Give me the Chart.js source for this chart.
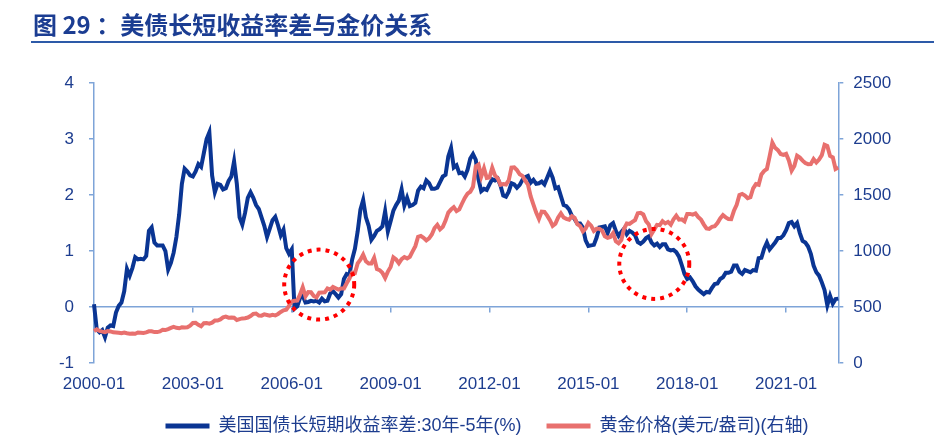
<!DOCTYPE html>
<html lang="zh">
<head>
<meta charset="UTF-8">
<title>美债长短收益率差与金价关系</title>
<script src="https://cdn.jsdelivr.net/npm/chart.js"></script>
<style>
    body {
        margin: 0;
        background: #ffffff;
    }
    .wrap {
        position: relative;
        width: 940px;
        height: 445px;
    }
    .title {
        position: absolute;
        left: 33px;
        top: 6px;
        font-family: "Noto Sans CJK SC", sans-serif;
        font-weight: bold;
        font-size: 24px;
        color: #1b3d92;
        white-space: nowrap;
    }
    .rule {
        position: absolute;
        left: 31px;
        right: 6px;
        top: 41px;
        height: 2px;
        background: #2d5aa8;
    }
    canvas {
        position: absolute;
        left: 0;
        top: 0;
    }
</style>
</head>
<body>
<div class="wrap">
    <canvas id="chart" width="940" height="445"></canvas>
    <div class="title">图 29 ：美债长短收益率差与金价关系</div>
    <div class="rule"></div>
</div>
<script>
// monthly, 2000-01 .. 2022-08
const firstYear = 2000;
const monthCount = 272;
const tickLabels = ["2000-01", "2003-01", "2006-01", "2009-01", "2012-01", "2015-01", "2018-01", "2021-01"];

// 美国国债长短期收益率差:30年-5年(%)
const spread = [
    0.05, -0.40, -0.45, -0.41, -0.54, -0.37, -0.33, -0.34, -0.10, 0.02, 0.08, 0.28,
    0.68, 0.56, 0.70, 0.89, 0.85, 0.86, 0.85, 0.91, 1.36, 1.42, 1.15, 1.10,
    1.10, 1.10, 1.00, 0.67, 0.79, 0.97, 1.25, 1.65, 2.20, 2.47, 2.42, 2.35,
    2.33, 2.42, 2.55, 2.50, 2.75, 3.00, 3.12, 2.35, 2.05, 2.20, 2.18, 2.10,
    2.12, 2.25, 2.33, 2.60, 2.20, 1.60, 1.47, 1.68, 1.95, 2.05, 1.95, 1.82,
    1.75, 1.60, 1.45, 1.25, 1.40, 1.55, 1.61, 1.46, 1.28, 1.38, 1.05, 0.95,
    1.03, -0.03, 0.01, 0.16, 0.20, 0.08, 0.09, 0.11, 0.10, 0.11, 0.08, 0.15,
    0.10, 0.11, 0.24, 0.28, 0.23, 0.17, 0.23, 0.50, 0.59, 0.57, 0.85, 1.04,
    1.35, 1.74, 1.91, 1.60, 1.45, 1.20, 1.27, 1.36, 1.39, 1.44, 1.71, 1.35,
    1.53, 1.72, 1.82, 1.90, 2.10, 1.81, 1.95, 1.80, 1.82, 1.86, 2.08, 2.15,
    2.12, 2.26, 2.21, 2.11, 2.11, 2.13, 2.23, 2.33, 2.36, 2.69, 2.84, 2.49,
    2.53, 2.39, 2.40, 2.33, 2.45, 2.65, 2.73, 2.63, 2.28, 2.07, 2.11, 2.09,
    2.19, 2.28, 2.26, 2.29, 2.17, 1.99, 1.97, 2.06, 2.21, 2.19, 2.13, 2.18,
    2.27, 2.32, 2.34, 2.22, 2.27, 2.20, 2.21, 2.24, 2.19, 2.31, 2.43, 2.31,
    2.12, 2.14, 1.98, 1.82, 1.80, 1.74, 1.63, 1.57, 1.49, 1.49, 1.42, 1.19,
    1.09, 1.10, 1.11, 1.24, 1.42, 1.43, 1.44, 1.32, 1.46, 1.50, 1.36, 1.27,
    1.34, 1.40, 1.30, 1.36, 1.33, 1.28, 1.16, 1.13, 1.17, 1.23, 1.26, 1.15,
    1.10, 1.13, 1.07, 1.12, 1.12, 1.03, 1.01, 1.02, 0.98, 0.90, 0.75, 0.59,
    0.50, 0.53, 0.46, 0.37, 0.31, 0.27, 0.23, 0.27, 0.26, 0.34, 0.41, 0.42,
    0.50, 0.53, 0.61, 0.61, 0.63, 0.74, 0.74, 0.63, 0.59, 0.66, 0.64, 0.62,
    0.66, 0.65, 0.87, 0.88, 1.04, 1.15, 1.03, 1.09, 1.15, 1.23, 1.23, 1.28,
    1.37, 1.50, 1.52, 1.44, 1.50, 1.32, 1.18, 1.15, 1.08, 0.95, 0.74, 0.62,
    0.56, 0.44, 0.30, 0.03, 0.20, 0.06, 0.14, 0.15
];

// 黄金价格(美元/盎司)
const gold = [
    284, 300, 286, 280, 275, 285, 282, 274, 273, 270, 266, 272,
    266, 262, 263, 261, 272, 270, 268, 273, 283, 283, 276, 276,
    282, 296, 294, 303, 314, 322, 314, 310, 319, 317, 319, 333,
    357, 359, 341, 328, 355, 356, 351, 360, 379, 379, 389, 407,
    414, 405, 406, 404, 384, 392, 398, 400, 406, 420, 439, 442,
    424, 423, 434, 429, 422, 430, 425, 438, 456, 470, 476, 510,
    549, 555, 557, 610, 676, 596, 633, 632, 598, 586, 627, 629,
    631, 665, 655, 679, 667, 655, 665, 665, 712, 754, 806, 803,
    889, 922, 968, 909, 888, 889, 939, 839, 829, 806, 760, 816,
    858, 943, 924, 890, 928, 946, 934, 949, 996, 1043, 1127, 1135,
    1118, 1095, 1113, 1148, 1205, 1233, 1193, 1215, 1271, 1343, 1370, 1391,
    1356, 1372, 1424, 1474, 1512, 1529, 1573, 1756, 1772, 1665, 1739, 1652,
    1656, 1743, 1675, 1649, 1591, 1598, 1594, 1630, 1744, 1747, 1722, 1685,
    1671, 1627, 1593, 1487, 1414, 1343, 1286, 1352, 1349, 1316, 1275, 1225,
    1244, 1300, 1336, 1299, 1287, 1279, 1311, 1296, 1239, 1222, 1176, 1201,
    1251, 1227, 1179, 1198, 1199, 1182, 1131, 1117, 1125, 1159, 1086, 1068,
    1097, 1199, 1246, 1242, 1260, 1276, 1337, 1341, 1326, 1267, 1238, 1151,
    1192, 1234, 1231, 1266, 1246, 1260, 1236, 1283, 1315, 1280, 1283, 1265,
    1331, 1331, 1325, 1335, 1303, 1282, 1238, 1202, 1198, 1215, 1221, 1250,
    1291, 1320, 1300, 1286, 1284, 1359, 1413, 1500, 1510, 1495, 1471, 1480,
    1560, 1597, 1591, 1683, 1715, 1732, 1846, 1968, 1921, 1900, 1866, 1858,
    1867, 1808, 1718, 1760, 1850, 1834, 1807, 1785, 1775, 1777, 1821, 1790,
    1817, 1856, 1948, 1937, 1849, 1836, 1732, 1745
];

// dotted circles drawn on the chart (month, left-axis value)
const circleMonths = ["2006-11", "2017-01"];
const circleValues = [0.40, 0.77];

const months = [];
for (let i = 0; i < monthCount; i++) {
    const y = firstYear + Math.floor(i / 12);
    const m = (i % 12) + 1;
    months.push(y + "-" + (m < 10 ? "0" + m : m));
}

const axisColor = "#7ea4d8";
const textColor = "#1d3d8f";
const fontFamily = "'Liberation Sans', 'Noto Sans CJK SC', sans-serif";

const circlePlugin = {
    id: "circles",
    afterDatasetsDraw(chart) {
        const ctx = chart.ctx;
        const xs = chart.scales.x;
        const ys = chart.scales.y;
        ctx.save();
        ctx.strokeStyle = "#ff0000";
        ctx.lineWidth = 4;
        ctx.setLineDash([4, 5]);
        for (let k = 0; k < circleMonths.length; k++) {
            const cx = xs.getPixelForValue(months.indexOf(circleMonths[k]));
            const cy = ys.getPixelForValue(circleValues[k]);
            ctx.beginPath();
            ctx.arc(cx, cy, 35, 0, Math.PI * 2);
            ctx.stroke();
        }
        ctx.restore();
    }
};

new Chart(document.getElementById("chart"), {
    type: "line",
    data: {
        labels: months,
        datasets: [
            {
                label: "美国国债长短期收益率差:30年-5年(%)",
                data: spread,
                borderColor: "#0a3593",
                backgroundColor: "#0a3593",
                borderWidth: 4,
                pointRadius: 0,
                tension: 0,
                yAxisID: "y",
                order: 2
            },
            {
                label: "黄金价格(美元/盎司)(右轴)",
                data: gold,
                borderColor: "#e8706e",
                backgroundColor: "#e8706e",
                borderWidth: 4,
                pointRadius: 0,
                tension: 0,
                yAxisID: "y1",
                order: 1
            }
        ]
    },
    options: {
        responsive: false,
        animation: false,
        events: [],
        layout: {
            padding: { top: 83, left: 34, right: 0, bottom: 0 }
        },
        plugins: {
            tooltip: { enabled: false },
            legend: {
                position: "bottom",
                maxHeight: 57,
                labels: {
                    color: textColor,
                    font: { family: fontFamily, size: 18 },
                    boxWidth: 44,
                    boxHeight: 5,
                    padding: 25,
                    sort: (a, b) => a.datasetIndex - b.datasetIndex,
                    generateLabels(chart) {
                        const items = Chart.defaults.plugins.legend.labels.generateLabels(chart);
                        items.forEach(it => {
                            it.fillStyle = it.strokeStyle;
                            it.lineWidth = 0;
                        });
                        return items;
                    }
                }
            }
        },
        scales: {
            x: {
                type: "category",
                position: "bottom",
                grid: { display: false },
                border: { display: false },
                afterFit(scale) { scale.height = 29; },
                ticks: {
                    autoSkip: false,
                    maxRotation: 0,
                    minRotation: 0,
                    padding: 3,
                    color: textColor,
                    font: { family: fontFamily, size: 17 },
                    callback(value, index) {
                        const lab = months[index];
                        return tickLabels.includes(lab) ? lab : "";
                    }
                }
            },
            x2: {
                type: "category",
                labels: months,
                position: { y: 0 },
                grid: {
                    drawOnChartArea: false,
                    drawTicks: true,
                    tickLength: 5,
                    lineWidth: 1.5,
                    color: ctx => tickLabels.includes(months[ctx.index]) ? axisColor : "rgba(0,0,0,0)"
                },
                border: { display: true, color: axisColor, width: 1.5 },
                ticks: { display: false }
            },
            y: {
                position: "left",
                min: -1,
                max: 4,
                afterFit(scale) { scale.width = 60; },
                grid: {
                    drawOnChartArea: false,
                    drawTicks: true,
                    tickLength: 5,
                    color: axisColor,
                    lineWidth: 1.5
                },
                border: { display: true, color: axisColor, width: 1.5 },
                ticks: {
                    stepSize: 1,
                    padding: 15,
                    color: textColor,
                    font: { family: fontFamily, size: 17 }
                }
            },
            y1: {
                position: "right",
                min: 0,
                max: 2500,
                afterFit(scale) { scale.width = 101.7; },
                grid: {
                    drawOnChartArea: false,
                    drawTicks: true,
                    tickLength: 5,
                    color: axisColor,
                    lineWidth: 1.5
                },
                border: { display: true, color: axisColor, width: 1.5 },
                ticks: {
                    stepSize: 500,
                    padding: 10,
                    color: textColor,
                    font: { family: fontFamily, size: 17 },
                    callback: v => String(v)
                }
            }
        }
    },
    plugins: [circlePlugin]
});
</script>
</body>
</html>
